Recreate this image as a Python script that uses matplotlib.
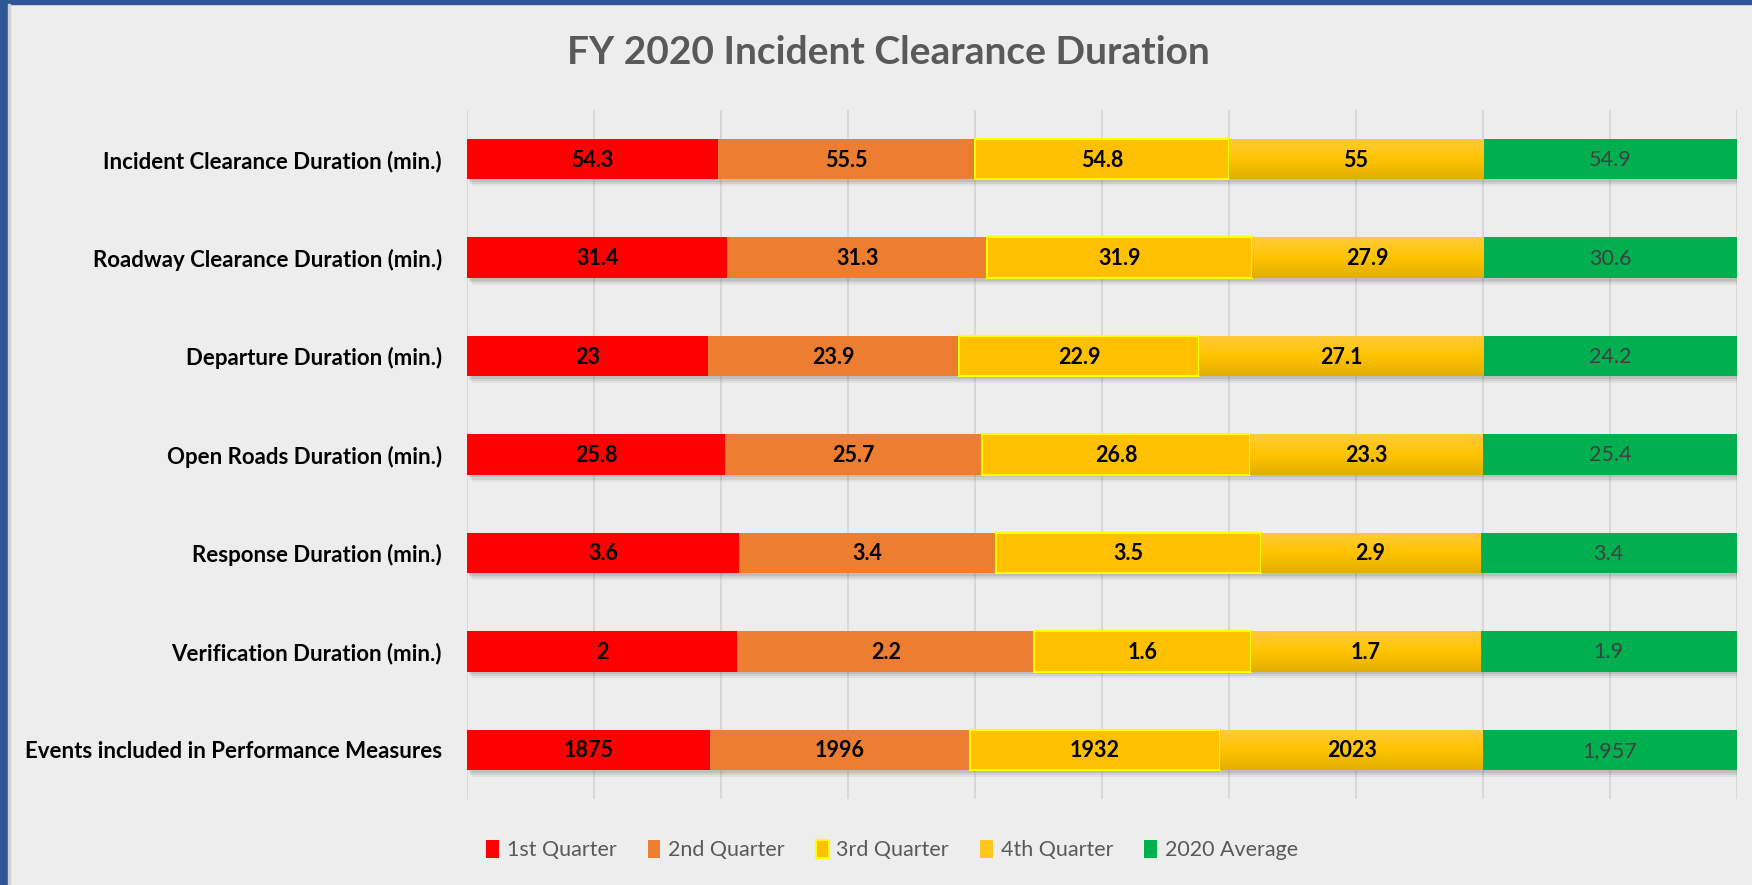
import numpy as np
import matplotlib
matplotlib.use('Agg')
import matplotlib.pyplot as plt
import matplotlib.patheffects as pe
from matplotlib.patches import Rectangle, Patch
from matplotlib.colors import LinearSegmentedColormap

plt.rcParams['font.family'] = ['Lato', 'DejaVu Sans']

categories = ['Incident Clearance Duration (min.)',
              'Roadway Clearance Duration (min.)',
              'Departure Duration (min.)',
              'Open Roads Duration (min.)',
              'Response Duration (min.)',
              'Verification Duration (min.)',
              'Events included in Performance Measures']
q1 = [54.3, 31.4, 23, 25.8, 3.6, 2, 1875]
q2 = [55.5, 31.3, 23.9, 25.7, 3.4, 2.2, 1996]
q3 = [54.8, 31.9, 22.9, 26.8, 3.5, 1.6, 1932]
q4 = [55, 27.9, 27.1, 23.3, 2.9, 1.7, 2023]
avg = [54.9, 30.6, 24.2, 25.4, 3.4, 1.9, 1957]
series_names = ['1st Quarter', '2nd Quarter', '3rd Quarter', '4th Quarter', '2020 Average']

colors = ['#FF0000', '#ED7D31', '#FFC000', '#FFC000', '#00B050']
bg = '#EDEDED'

data = np.array([q1, q2, q3, q4, avg], dtype=float)
pct = data / data.sum(axis=0) * 100

fig = plt.figure(figsize=(17.52, 8.85), dpi=100, facecolor=bg)
# blue frame on left and top
fig.patches.append(Rectangle((0, 0), 8 / 1752, 1, transform=fig.transFigure,
                             color='#2F5597', zorder=0))
fig.patches.append(Rectangle((0, 1 - 4 / 885), 1, 4 / 885, transform=fig.transFigure,
                             color='#2F5597', zorder=0))
fig.patches.append(Rectangle((8 / 1752, 0), 2 / 1752, 1 - 4 / 885, transform=fig.transFigure,
                             color='#D0D0D0', zorder=0))

ax = fig.add_axes([467 / 1752, 86 / 885, (1737 - 467) / 1752, (799 - 110) / 885])
ax.set_facecolor(bg)

y = np.arange(len(categories))
h = 0.41
# soft drop shadow built from a few faint offset copies
shadow = [pe.SimplePatchShadow(offset=(1.5, -2), shadow_rgbFace='#444444', alpha=0.12),
          pe.SimplePatchShadow(offset=(2.5, -3.5), shadow_rgbFace='#444444', alpha=0.10),
          pe.SimplePatchShadow(offset=(3.5, -5), shadow_rgbFace='#444444', alpha=0.07),
          pe.Normal()]
cmap = LinearSegmentedColormap.from_list('q4', ['#FFCB3A', '#FFC400', '#E2AF00'])

left = np.zeros(len(categories))
for i in range(5):
    if i == 2:
        bars = ax.barh(y, pct[i], left=left, height=h, color=colors[i],
                       edgecolor='#FFFF00', linewidth=1.5, zorder=3)
    else:
        bars = ax.barh(y, pct[i], left=left, height=h, color=colors[i],
                       linewidth=0, zorder=3)
    for b in bars:
        b.set_path_effects(shadow)
    if i == 3:
        # vertical gradient on the 4th quarter
        for b in bars:
            x0, y0 = b.get_x(), b.get_y()
            im = ax.imshow(np.linspace(0, 1, 50).reshape(-1, 1), cmap=cmap, aspect='auto',
                           extent=(x0, x0 + b.get_width(), y0 + b.get_height(), y0),
                           origin='upper', zorder=3.5, interpolation='bicubic')
            im.set_clip_path(b)
    for j, b in enumerate(bars):
        v = data[i, j]
        cx = left[j] + pct[i, j] / 2
        if i == 4:
            ax.text(cx, y[j] + 0.01, '{:,g}'.format(v), ha='center', va='center',
                    fontsize=15.5, color='#404040', zorder=5)
        else:
            ax.text(cx, y[j] + 0.01, '{:g}'.format(v), ha='center', va='center',
                    fontsize=15.5, fontweight='bold', color='black', zorder=5)
    left += pct[i]

ax.set_xlim(0, 100)
ax.set_ylim(len(categories) - 0.5, -0.5)
ax.set_xticks(np.arange(0, 101, 10))
ax.set_xticklabels([])
ax.tick_params(axis='both', length=0)
ax.grid(axis='x', color='#D6D6D6', linewidth=1.3, zorder=0)
ax.set_axisbelow(True)
ax.set_yticks(y)
ax.set_yticklabels(categories, fontsize=16, fontweight='bold', color='black')
ax.tick_params(axis='y', pad=18)
for s in ax.spines.values():
    s.set_visible(False)

fig.text(888 / 1752, 1 - 52 / 885, 'FY 2020 Incident Clearance Duration',
         ha='center', va='center', fontsize=28, fontweight='bold', color='#595959')

handles = [Patch(facecolor=colors[0], linewidth=0),
           Patch(facecolor=colors[1], linewidth=0),
           Patch(facecolor=colors[2], edgecolor='#FFFF00', linewidth=1.5),
           Patch(facecolor='#FFC61E', linewidth=0),
           Patch(facecolor=colors[4], linewidth=0)]
leg = fig.legend(handles, series_names, loc='center', bbox_to_anchor=(892 / 1752, 1 - 850 / 885),
                 ncol=5, frameon=False, fontsize=15.5, handlelength=0.6, handleheight=0.9,
                 handletextpad=0.35, columnspacing=1.45, labelcolor='#595959')

fig.savefig('out.png', dpi=100, facecolor=bg)
